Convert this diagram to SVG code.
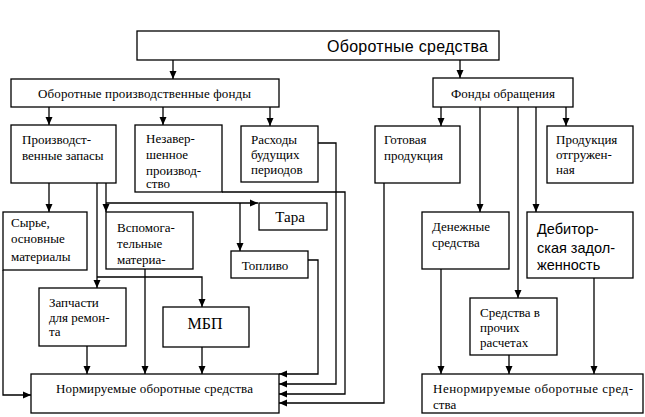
<svg xmlns="http://www.w3.org/2000/svg" width="645" height="417" viewBox="0 0 645 417">
<style>
.box{fill:#fff;stroke:#000;stroke-width:1.3}
.c{fill:none;stroke:#000;stroke-width:1.3}
</style>
<defs>
<marker id="ah" markerWidth="8" markerHeight="8" refX="8" refY="4" orient="auto" markerUnits="userSpaceOnUse">
<path d="M0,0.5 L8,4 L0,7.5 Z" fill="#000"/>
</marker>
</defs>
<rect width="645" height="417" fill="#fff"/>

<g id="connectors" class="c" marker-end="url(#ah)">
<path d="M173,60 V79"/>
<path d="M460,60 V78"/>
<path d="M49,107 V125"/>
<path d="M163,107 V125"/>
<path d="M270,107 V126"/>
<path d="M441,107 V126"/>
<path d="M480,107 V212"/>
<path d="M518,107 V298"/>
<path d="M536,107 V212"/>
<path d="M566,107 V126"/>
<path d="M49,183 V212"/>
<path d="M97,183 V288"/>
<path d="M106,183 V212"/>
<path d="M106,203 H258"/>
<path d="M240,203 V251"/>
<path d="M97,277 H202 V307"/>
<path d="M145,269 V374"/>
<path d="M87,346 V374"/>
<path d="M202,347 V374"/>
<path d="M3,270 V395 H31"/>
<path d="M308,260 H318 V374 H279"/>
<path d="M318,143 H336 V384 H279"/>
<path d="M222,192 H345 V394 H279"/>
<path d="M384,183 V403 H279"/>
<path d="M441,269 V374"/>
<path d="M509,355 V374"/>
<path d="M594,278 V374"/>
</g>

<g font-family="Liberation Serif, DejaVu Serif, serif" font-size="13" fill="#000">
<g id="n-top"><rect class="box" x="137" y="31" width="362" height="29"/>
<text x="327" y="52" font-family="Liberation Sans, DejaVu Sans, sans-serif" font-size="16" textLength="161">Оборотные средства</text></g>

<g id="n-opf"><rect class="box" x="11" y="79" width="268" height="28"/>
<text x="38" y="97.5" textLength="213">Оборотные производственные фонды</text></g>

<g id="n-fo"><rect class="box" x="433" y="78" width="140" height="29"/>
<text x="451" y="97.5" textLength="104">Фонды обращения</text></g>

<g id="n-pz"><rect class="box" x="11" y="125" width="105" height="58"/>
<text x="22" y="143.5">Производст-</text>
<text x="22" y="159.5">венные запасы</text></g>

<g id="n-nzp"><rect class="box" x="135" y="125" width="87" height="67"/>
<text x="146" y="142.5">Незавер-</text>
<text x="146" y="158.5">шенное</text>
<text x="146" y="174.5">производ-</text>
<text x="146" y="188">ство</text></g>

<g id="n-rbp"><rect class="box" x="241" y="126" width="77" height="56"/>
<text x="251" y="143.5">Расходы</text>
<text x="251" y="158.5">будущих</text>
<text x="251" y="173.5">периодов</text></g>

<g id="n-gp"><rect class="box" x="375" y="126" width="85" height="57"/>
<text x="384" y="143.5">Готовая</text>
<text x="384" y="159.5">продукция</text></g>

<g id="n-po"><rect class="box" x="547" y="126" width="86" height="57"/>
<text x="556" y="143.5">Продукция</text>
<text x="556" y="158.5">отгружен-</text>
<text x="556" y="174">ная</text></g>

<g id="n-syr"><rect class="box" x="3" y="212" width="84" height="58"/>
<text x="11" y="227">Сырье,</text>
<text x="11" y="243">основные</text>
<text x="11" y="261">материалы</text></g>

<g id="n-vsp"><rect class="box" x="106" y="212" width="87" height="57"/>
<text x="117" y="231.5">Вспомога-</text>
<text x="117" y="247.5">тельные</text>
<text x="117" y="264">материа-</text></g>

<g id="n-tara"><rect class="box" x="259" y="203" width="68" height="27"/>
<text x="290" y="222" font-size="15" text-anchor="middle">Тара</text></g>

<g id="n-topl"><rect class="box" x="231" y="251" width="77" height="27"/>
<text x="265" y="269.5" text-anchor="middle">Топливо</text></g>

<g id="n-zap"><rect class="box" x="39" y="288" width="87" height="58"/>
<text x="49" y="306.5">Запчасти</text>
<text x="49" y="321.5">для ремон-</text>
<text x="49" y="336">та</text></g>

<g id="n-mbp"><rect class="box" x="163" y="307" width="86" height="40"/>
<text x="205" y="328.5" font-size="16" text-anchor="middle">МБП</text></g>

<g id="n-norm"><rect class="box" x="31" y="374" width="248" height="39"/>
<text x="56" y="392.5" textLength="197">Нормируемые оборотные средства</text></g>

<g id="n-den"><rect class="box" x="422" y="212" width="87" height="57"/>
<text x="432" y="230.5">Денежные</text>
<text x="432" y="246.5">средства</text></g>

<g id="n-deb"><rect class="box" x="527" y="212" width="106" height="66"/>
<g font-family="Liberation Sans, DejaVu Sans, sans-serif" font-size="14.5">
<text x="537" y="233.5">Дебитор-</text>
<text x="537" y="252.5">ская задол-</text>
<text x="537" y="269.5">женность</text></g></g>

<g id="n-proch"><rect class="box" x="470" y="298" width="87" height="57"/>
<text x="480" y="316.5">Средства в</text>
<text x="480" y="331.5">прочих</text>
<text x="480" y="346.5">расчетах</text></g>

<g id="n-nenorm"><rect class="box" x="422" y="374" width="221" height="39"/>
<text x="433" y="392.5" textLength="200">Ненормируемые оборотные сред-</text>
<text x="433" y="409">ства</text></g>
</g>
</svg>
